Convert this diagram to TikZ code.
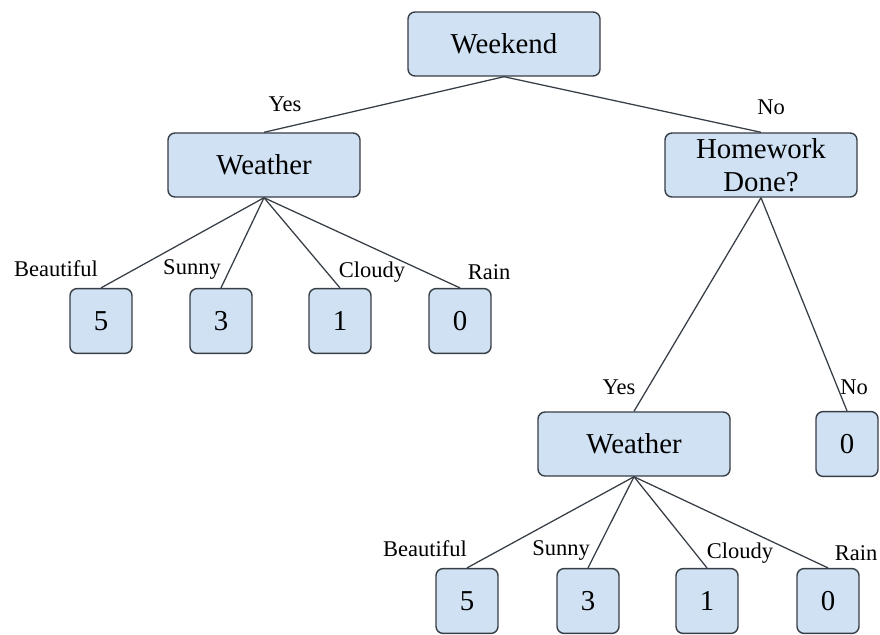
\documentclass[tikz,border=0pt]{standalone}
\usepackage{fontspec}
\setmainfont{Liberation Serif}
\usetikzlibrary{positioning}
\definecolor{boxfill}{RGB}{207,225,242}
\definecolor{boxline}{RGB}{55,62,70}
\tikzset{
  tbox/.style={draw=boxline, fill=boxfill, rounded corners=5pt, line width=1pt,
    minimum width=4.8cm, minimum height=1.6cm, inner sep=1pt,
    font=\fontsize{20.5}{23.5}\selectfont},
  leaf/.style={tbox, minimum width=1.55cm, minimum height=1.62cm},
  lbl/.style={font=\fontsize{16}{18}\selectfont, inner sep=0pt},
  edge/.style={draw=boxline, line width=0.9pt}
}

\begin{document}
\begin{tikzpicture}[x=0.025cm, y=-0.025cm]
\useasboundingbox (0,0) rectangle (880,634);

%root
\node[tbox] (weekend) at (504,44) {Weekend};

%yes branch
\node[tbox] (weatherA) at (264,165) {Weather};
\node[leaf] (a5) at (101,321) {5};
\node[leaf] (a3) at (221,321) {3};
\node[leaf] (a1) at (340,321) {1};
\node[leaf] (a0) at (460,321) {0};

%no branch
\node[tbox, align=center] (homework) at (761,165) {Homework\\Done?};
\node[tbox] (weatherB) at (634,444) {Weather};
\node[leaf] (h0) at (847,444) {0};
\node[leaf] (b5) at (467,601) {5};
\node[leaf] (b3) at (588,601) {3};
\node[leaf] (b1) at (707,601) {1};
\node[leaf] (b0) at (828,601) {0};

%edges
\draw[edge] (weekend.south) -- (weatherA.north);
\draw[edge] (weekend.south) -- (homework.north);
\foreach \n in {a5,a3,a1,a0} \draw[edge] (weatherA.south) -- (\n.north);
\draw[edge] (homework.south) -- (weatherB.north);
\draw[edge] (homework.south) -- (h0.north);
\foreach \n in {b5,b3,b1,b0} \draw[edge] (weatherB.south) -- (\n.north);

%labels
\node[lbl] (yesA) at (285,104) {Yes};
\node[lbl] (noA) at (771,107) {No};
\node[lbl] (beautA) at (56,269) {Beautiful};
\node[lbl] (sunA) at (192,269) {Sunny};
\node[lbl] (cloudA) at (372,272) {Cloudy};
\node[lbl] (rainA) at (489,272) {Rain};
\node[lbl] (yesB) at (619,387) {Yes};
\node[lbl] (noB) at (854,387) {No};
\node[lbl] (beautB) at (425,549) {Beautiful};
\node[lbl] (sunB) at (561,550) {Sunny};
\node[lbl] (cloudB) at (740,553) {Cloudy};
\node[lbl] (rainB) at (856,553) {Rain};
\end{tikzpicture}
\end{document}
